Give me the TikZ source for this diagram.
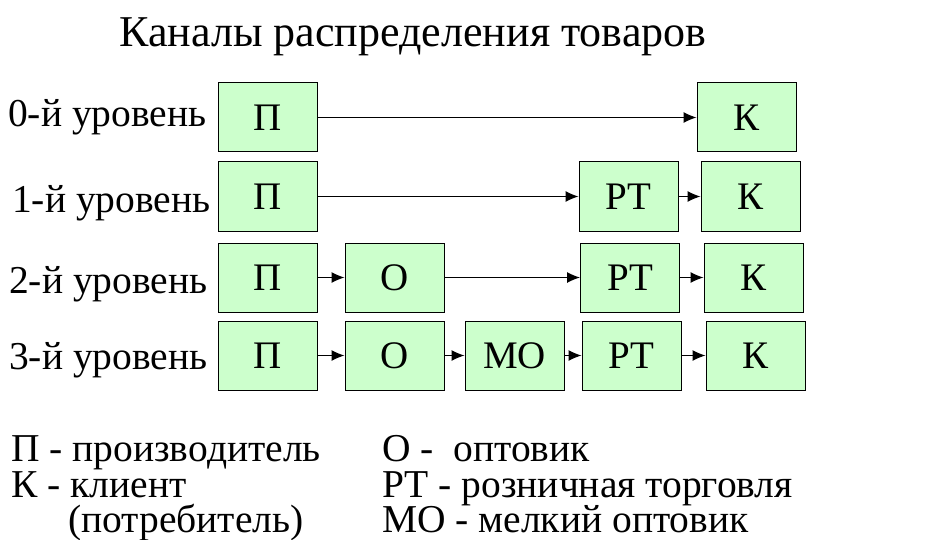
\documentclass[tikz,border=0pt]{standalone}
\usepackage{fontspec}
\setmainfont{Liberation Serif}
\usetikzlibrary{arrows.meta}
\definecolor{boxgreen}{HTML}{CCFFCC}
\tikzset{
  stagebox/.style={draw=black, line width=1pt, fill=boxgreen, minimum width=99pt, minimum height=69pt, inner sep=0pt, font=\fontsize{39}{42}\selectfont},
  levellabel/.style={anchor=base west, inner sep=0pt, font=\fontsize{39.5}{42}\selectfont},
  legendtext/.style={anchor=base west, inner sep=0pt, font=\fontsize{39.5}{42}\selectfont},
  flow/.style={line width=1.1pt, -{Latex[length=13pt,width=11pt]}}
}
\begin{document}
\begin{tikzpicture}[x=1pt,y=-1pt]
\useasboundingbox (0,0) rectangle (925,540);
\fill[white] (0,0) rectangle (925,540);
\node[anchor=base, inner sep=0pt, font=\fontsize{44}{48}\selectfont] (title) at (413,47) {Каналы распределения товаров};
% labels
\node[levellabel] (l0) at (8,127) {0-й уровень};
\node[levellabel] (l1) at (12,212) {1-й уровень};
\node[levellabel] (l2) at (9,293) {2-й уровень};
\node[levellabel] (l3) at (9,369) {3-й уровень};
% row 0
\node[stagebox] (p0) at (267.5,117.5) {П};
\node[stagebox] (k0) at (746.5,117.5) {К};
% row 1
\node[stagebox] (p1) at (267.5,196.5) {П};
\node[stagebox] (rt1) at (628.5,196.5) {РТ};
\node[stagebox] (k1) at (750.5,196.5) {К};
% row 2
\node[stagebox] (p2) at (267.5,277.5) {П};
\node[stagebox] (o2) at (394.5,277.5) {О};
\node[stagebox] (rt2) at (630,277.5) {РТ};
\node[stagebox] (k2) at (753.5,277.5) {К};
% row 3
\node[stagebox] (p3) at (267.5,355.5) {П};
\node[stagebox] (o3) at (394.5,355.5) {О};
\node[stagebox] (mo3) at (514.5,355.5) {МО};
\node[stagebox] (rt3) at (631.5,355.5) {РТ};
\node[stagebox] (k3) at (755.5,355.5) {К};
% arrows
\draw[flow] (p0) -- (k0);
\draw[flow] (p1) -- (rt1);
\draw[flow] (rt1) -- (k1);
\draw[flow] (p2) -- (o2);
\draw[flow] (o2) -- (rt2);
\draw[flow] (rt2) -- (k2);
\draw[flow] (p3) -- (o3);
\draw[flow] (o3) -- (mo3);
\draw[flow] (mo3) -- (rt3);
\draw[flow] (rt3) -- (k3);
% legend
\node[legendtext] (g1) at (11,461) {П - производитель};
\node[legendtext] (g2) at (11,497) {К - клиент};
\node[legendtext] (g3) at (68,532) {(потребитель)};
\node[legendtext] (g4) at (382,461) {О -\ \ оптовик};
\node[legendtext] (g5) at (382,497) {РТ - розничная торговля};
\node[legendtext] (g6) at (382,532) {МО - мелкий оптовик};
\end{tikzpicture}
\end{document}
